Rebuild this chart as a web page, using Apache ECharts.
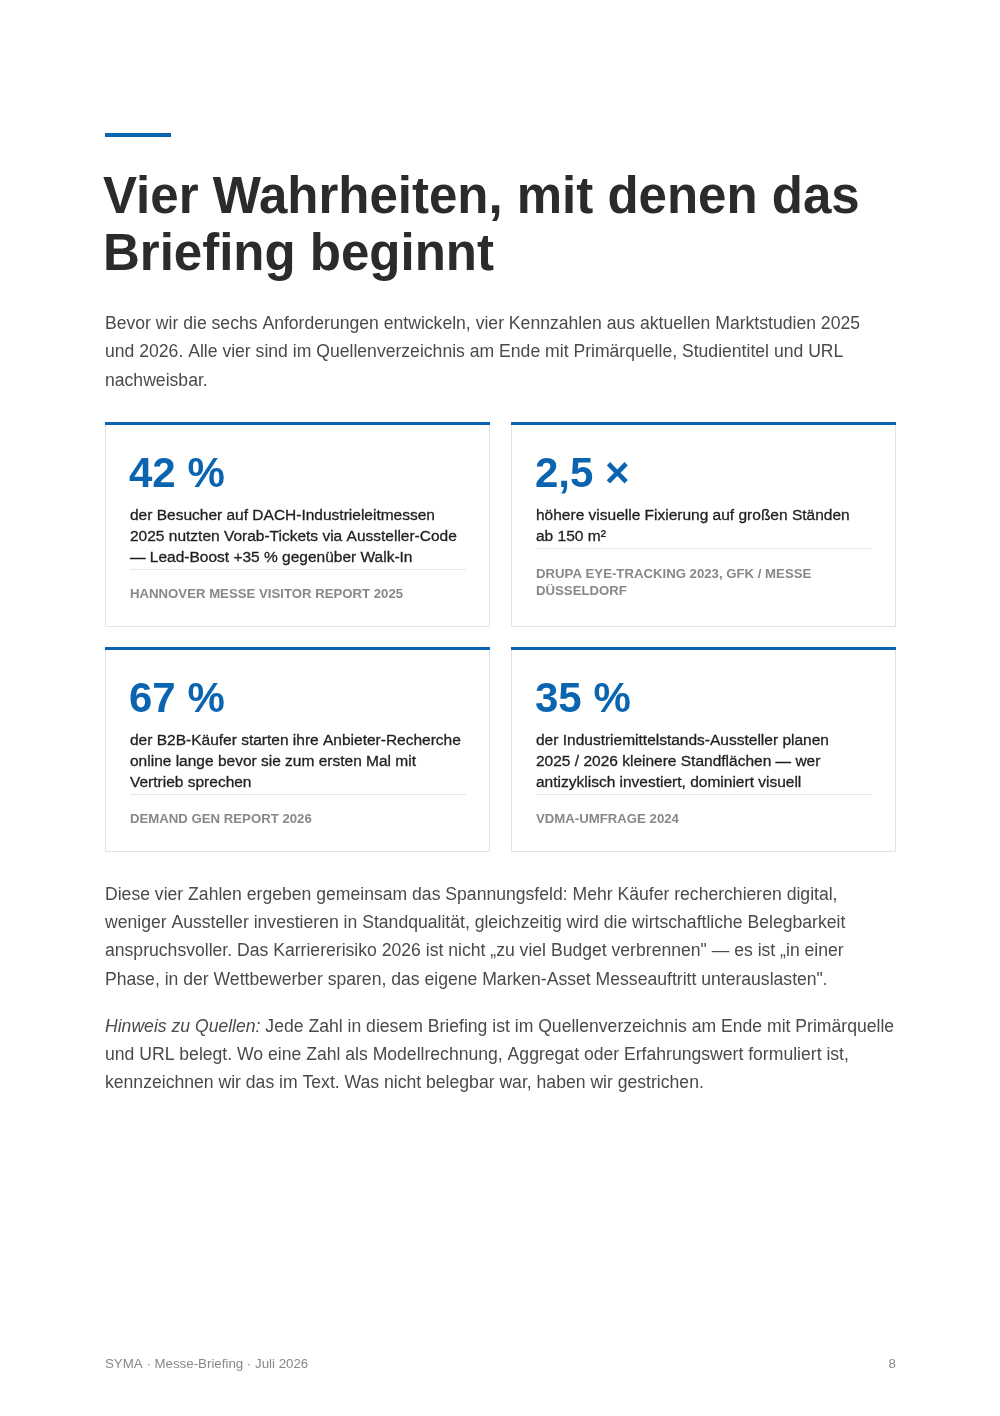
<!DOCTYPE html>
<html><head><meta charset="utf-8">
<script src="https://cdn.jsdelivr.net/npm/echarts@6/dist/echarts.min.js"></script>
<style>html,body{margin:0;padding:0;background:#fff}#c{width:1000px;height:1416px}</style>
</head><body><div id="c"></div>
<script>
const titleLines = ["Vier Wahrheiten, mit denen das", "Briefing beginnt"];
const introLines = [
 "Bevor wir die sechs Anforderungen entwickeln, vier Kennzahlen aus aktuellen Marktstudien 2025",
 "und 2026. Alle vier sind im Quellenverzeichnis am Ende mit Primärquelle, Studientitel und URL",
 "nachweisbar."];
const cardValues = ["42 %", "2,5 ×", "67 %", "35 %"];
const cardTexts = [
 ["der Besucher auf DACH-Industrieleitmessen", "2025 nutzten Vorab-Tickets via Aussteller-Code", "— Lead-Boost +35 % gegenüber Walk-In"],
 ["höhere visuelle Fixierung auf großen Ständen", "ab 150 m²"],
 ["der B2B-Käufer starten ihre Anbieter-Recherche", "online lange bevor sie zum ersten Mal mit", "Vertrieb sprechen"],
 ["der Industriemittelstands-Aussteller planen", "2025 / 2026 kleinere Standflächen — wer", "antizyklisch investiert, dominiert visuell"]];
const cardSources = [
 ["HANNOVER MESSE VISITOR REPORT 2025"],
 ["DRUPA EYE-TRACKING 2023, GFK / MESSE", "DÜSSELDORF"],
 ["DEMAND GEN REPORT 2026"],
 ["VDMA-UMFRAGE 2024"]];
const bodyLines = [
 "Diese vier Zahlen ergeben gemeinsam das Spannungsfeld: Mehr Käufer recherchieren digital,",
 "weniger Aussteller investieren in Standqualität, gleichzeitig wird die wirtschaftliche Belegbarkeit",
 "anspruchsvoller. Das Karriererisiko 2026 ist nicht „zu viel Budget verbrennen\" — es ist „in einer",
 "Phase, in der Wettbewerber sparen, das eigene Marken-Asset Messeauftritt unterauslasten\"."];
const noteLead = "Hinweis zu Quellen:";
const noteLines = [
 " Jede Zahl in diesem Briefing ist im Quellenverzeichnis am Ende mit Primärquelle",
 "und URL belegt. Wo eine Zahl als Modellrechnung, Aggregat oder Erfahrungswert formuliert ist,",
 "kennzeichnen wir das im Text. Was nicht belegbar war, haben wir gestrichen."];
const footerLeft = "SYMA · Messe-Briefing · Juli 2026";
const footerRight = "8";

const F = '"Liberation Sans", Arial, sans-serif';
const BLUE = '#0a64b0';
const els = [];
const txt = (x, y, s, st) => els.push({type:'text', x, y, style:Object.assign({text:s, fontFamily:F, verticalAlign:'middle'}, st)});

els.push({type:'rect', shape:{x:105,y:133,width:66,height:4}, style:{fill:BLUE}});
titleLines.forEach((l,i)=>txt(103, 199+i*57, l, {fontSize:51, fontWeight:'bold', fill:'#2b2b2b'}));
introLines.forEach((l,i)=>txt(105, 324+i*28.5, l, {fontSize:17.6, fill:'#4a4a4a'}));

const pos = [[105,422],[511,422],[105,647],[511,647]];
pos.forEach(([x,y],k)=>{
  els.push({type:'rect', shape:{x:x+0.5,y:y+0.5,width:384,height:204}, style:{fill:'#fff', stroke:'#e2e2e2', lineWidth:1}});
  els.push({type:'rect', shape:{x:x,y:y,width:385,height:3}, style:{fill:BLUE}});
  txt(x+24, y+53, cardValues[k], {fontSize:42, fontWeight:'bold', fill:BLUE});
  const t = cardTexts[k];
  t.forEach((l,i)=>txt(x+25, y+94+i*21, l, {fontSize:15.5, fill:'#1e1e1e', textStrokeWidth:0.3, stroke:'#1e1e1e', lineWidth:0.3}));
  const dy = y+93+(t.length-1)*21+12;
  els.push({type:'rect', shape:{x:x+25,y:dy,width:336,height:1}, style:{fill:'#e6e6e6'}});
  const s = cardSources[k];
  s.forEach((l,i)=>txt(x+25, dy+(s.length===1?25:26+i*17), l, {fontSize:13.2, fontWeight:'bold', fill:'#888'}));
});

bodyLines.forEach((l,i)=>txt(105, 895+i*28.3, l, {fontSize:17.6, fill:'#4a4a4a'}));
noteLines.forEach((l,i)=>{
  if(i===0) els.push({type:'text', x:105, y:1027, style:{rich:{a:{fontStyle:'italic',fontSize:17.6,fill:'#4a4a4a',fontFamily:F},b:{fontSize:17.6,fill:'#4a4a4a',fontFamily:F}}, text:'{a|'+noteLead+'}{b|'+l+'}', verticalAlign:'middle'}});
  else txt(105, 1027+i*28.3, l, {fontSize:17.6, fill:'#4a4a4a'});
});
txt(105, 1364, footerLeft, {fontSize:13.3, fill:'#888'});
txt(896, 1364, footerRight, {fontSize:13.3, fill:'#888', align:'right'});

const chart = echarts.init(document.getElementById('c'));
chart.setOption({backgroundColor:'#fff', graphic:{elements:els}});
</script></body></html>
